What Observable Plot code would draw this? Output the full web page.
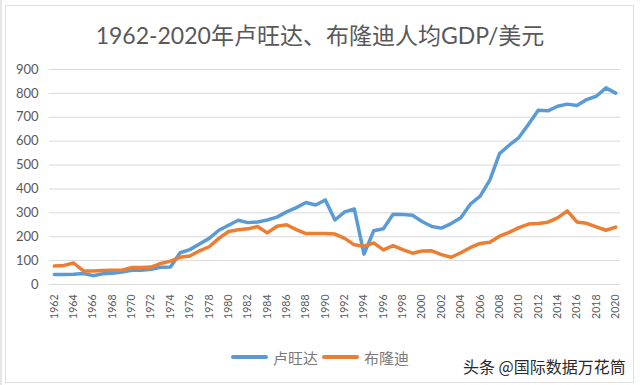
<!DOCTYPE html>
<html>
<head>
<meta charset="utf-8">
<script src="https://cdn.jsdelivr.net/npm/d3@7"></script>
<script src="https://cdn.jsdelivr.net/npm/@observablehq/plot@0.6"></script>
<style>
  html, body { margin: 0; padding: 0; background: #fff; }
  #wrap { position: relative; width: 640px; height: 385px; overflow: hidden; background: #fff; }
  #leftstrip { position: absolute; left: 0; top: 0; width: 2px; height: 385px; background: #e6e6e6; }
  #border { position: absolute; left: 5px; top: 5px; width: 629px; height: 378px; border: 1px solid #dedede; box-sizing: border-box; }
  #title { position: absolute; left: 0; top: 20px; width: 640px; text-align: center; font-family: Lato, "Noto Sans CJK SC", sans-serif; font-size: 23px; line-height: 30px; color: #595959; }
  #chart { position: absolute; left: 0; top: 58px; }
  #legend { position: absolute; left: 0; top: 347px; width: 640px; height: 20px; display: flex; justify-content: center; align-items: center; font-family: "Noto Sans CJK SC", sans-serif; font-size: 15px; color: #7a7a7a; }
  .sw { display: inline-block; width: 37px; height: 4px; margin-right: 5px; border-radius: 2px; }
  .it { display: flex; align-items: center; margin: 0 2px; }
  #wm { position: absolute; left: 463px; top: 355px; font-family: "Noto Sans CJK SC", sans-serif; font-size: 16px; line-height: 22px; color: #2a2a2a; background: #fff; }
</style>
</head>
<body>
<div id="wrap">
  <div id="leftstrip"></div>
  <div id="border"></div>
  <div id="title"></div>
  <div id="chart"></div>
  <div id="legend"></div>
  <div id="wm">头条 @国际数据万花筒</div>
</div>
<script>
const title = "1962-2020年卢旺达、布隆迪人均GDP/美元";
const seriesNames = ["卢旺达", "布隆迪"];
const seriesColors = ["#5B9BD5", "#ED7D31"];
const years = d3.range(1962, 2021);
const rwanda = [42, 42, 43, 46, 37, 45, 47, 52, 60, 60, 64, 72, 73, 133, 146, 170, 193, 227, 248, 269,
  259, 262, 270, 282, 304, 322, 343, 333, 354, 270, 304, 316, 127, 225, 233, 294, 293, 290, 264, 243,
  236, 255, 279, 337, 370, 437, 548, 583, 615, 671, 729, 727, 746, 755, 749, 774, 788, 823, 801];
const burundi = [77, 80, 90, 57, 57, 59, 60, 60, 71, 71, 73, 88, 98, 114, 119, 141, 158, 193, 222, 229,
  233, 243, 216, 244, 250, 230, 213, 213, 213, 211, 193, 166, 160, 174, 145, 163, 146, 131, 140, 141,
  125, 114, 133, 155, 172, 177, 202, 218, 238, 253, 255, 261, 279, 308, 262, 256, 241, 227, 240];
const xTicks = d3.range(1962, 2021, 2);
const yTicks = d3.range(0, 901, 100);

document.getElementById("title").textContent = title;

const rows = [];
years.forEach((y, i) => {
  rows.push({year: y, value: rwanda[i], name: seriesNames[0]});
  rows.push({year: y, value: burundi[i], name: seriesNames[1]});
});

const chart = Plot.plot({
  width: 640,
  height: 280,
  marginLeft: 49,
  marginRight: 20,
  marginTop: 11,
  marginBottom: 54,
  style: {fontFamily: "Lato, 'Liberation Sans', sans-serif", color: "#595959", background: "transparent"},
  x: {domain: [1961.5, 2020.5]},
  y: {domain: [0, 900]},
  color: {domain: seriesNames, range: seriesColors},
  marks: [
    Plot.gridY(yTicks, {stroke: "#d9d9d9", strokeOpacity: 1, strokeWidth: 1}),
    Plot.axisY({ticks: yTicks, tickSize: 0, tickPadding: 11, fontSize: 13, label: null, tickFormat: d => String(d)}),
    Plot.axisX({ticks: xTicks, tickSize: 0, tickPadding: 10, tickRotate: -90, fontSize: 10.5, label: null, tickFormat: d => String(d)}),
    Plot.lineY(rows, {x: "year", y: "value", z: "name", stroke: "name", strokeWidth: 3.5, strokeLinejoin: "round", strokeLinecap: "round"})
  ]
});
document.getElementById("chart").appendChild(chart);

const legend = document.getElementById("legend");
seriesNames.forEach((n, i) => {
  const it = document.createElement("span");
  it.className = "it";
  const sw = document.createElement("span");
  sw.className = "sw";
  sw.style.background = seriesColors[i];
  const t = document.createElement("span");
  t.textContent = n;
  it.appendChild(sw);
  it.appendChild(t);
  legend.appendChild(it);
});
</script>
</body>
</html>
